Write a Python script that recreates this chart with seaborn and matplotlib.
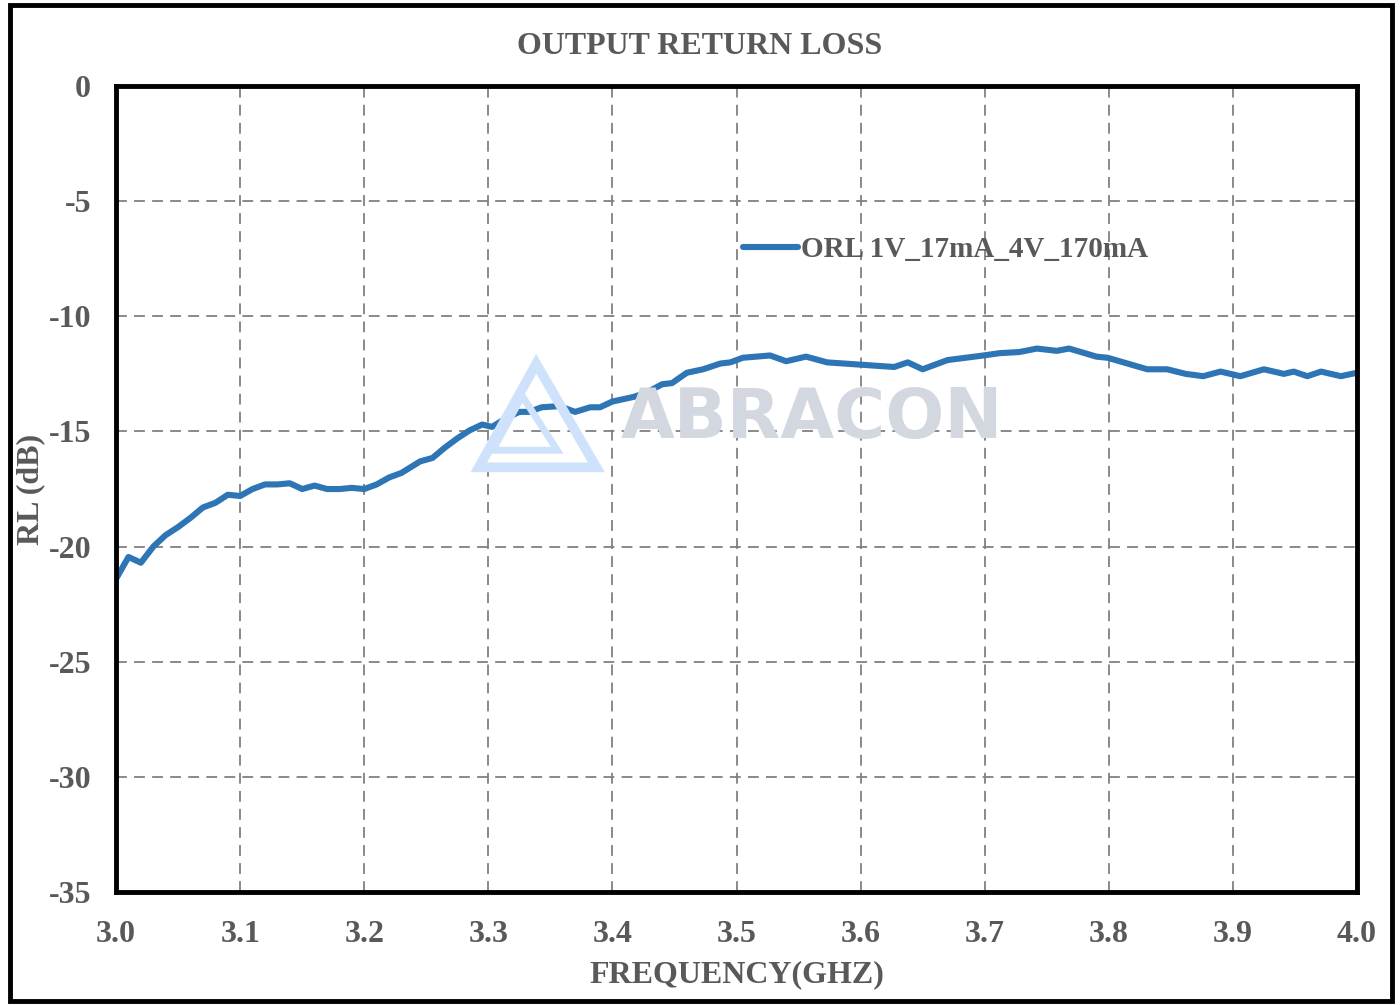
import numpy as np
import pandas as pd
import matplotlib.pyplot as plt
import matplotlib.patches as patches
import seaborn as sns

# values
freq = [3.000, 3.010, 3.020, 3.030, 3.040, 3.050, 3.060, 3.070, 3.080, 3.090,
        3.100, 3.110, 3.120, 3.130, 3.140, 3.150, 3.160, 3.170, 3.180, 3.190,
        3.200, 3.210, 3.220, 3.230, 3.245, 3.255, 3.265, 3.275, 3.285, 3.295,
        3.303, 3.315, 3.325, 3.333, 3.343, 3.357, 3.370, 3.382, 3.390, 3.400,
        3.417, 3.428, 3.440, 3.448, 3.460, 3.473, 3.487, 3.495, 3.505, 3.527,
        3.540, 3.556, 3.573, 3.600, 3.627, 3.638, 3.650, 3.670, 3.699, 3.712,
        3.728, 3.742, 3.758, 3.768, 3.790, 3.799, 3.815, 3.831, 3.847, 3.862,
        3.876, 3.890, 3.906, 3.925, 3.941, 3.949, 3.960, 3.971, 3.987, 4.000]
rl = [-21.4, -20.45, -20.7, -20.0, -19.5, -19.15, -18.75, -18.3, -18.1, -17.75,
      -17.8, -17.5, -17.3, -17.3, -17.25, -17.5, -17.35, -17.5, -17.5, -17.45,
      -17.5, -17.3, -17.0, -16.8, -16.3, -16.15, -15.7, -15.3, -14.95, -14.7,
      -14.8, -14.4, -14.15, -14.15, -13.95, -13.9, -14.15, -13.95, -13.95, -13.7,
      -13.5, -13.3, -12.95, -12.9, -12.45, -12.3, -12.05, -12.0, -11.8, -11.7,
      -11.95, -11.75, -12.0, -12.1, -12.2, -12.0, -12.3, -11.9, -11.7, -11.6,
      -11.55, -11.4, -11.5, -11.4, -11.75, -11.8, -12.05, -12.3, -12.3, -12.5,
      -12.6, -12.4, -12.6, -12.3, -12.5, -12.4, -12.6, -12.4, -12.6, -12.45]
series_name = "ORL 1V_17mA_4V_170mA"
x_ticks = [3.0, 3.1, 3.2, 3.3, 3.4, 3.5, 3.6, 3.7, 3.8, 3.9, 4.0]
y_ticks = [0, -5, -10, -15, -20, -25, -30, -35]

df = pd.DataFrame({"Frequency": freq, "RL": rl, "Series": series_name})

sns.set_theme(style="white")
plt.rcParams["font.family"] = ["Liberation Serif", "DejaVu Serif"]
plt.rcParams["font.weight"] = "bold"
txt = "#595959"

fig = plt.figure(figsize=(14, 10.05), dpi=100)
ax = fig.add_axes([0.0829, 0.1124, 0.8864, 0.802])

# watermark (behind data)
fig.text(0.580, 0.584, "ABRACON", fontsize=50, color="#d3d7e0", weight="bold",
         family=["DejaVu Sans"], ha="center", va="center", zorder=0)
logo_outer = patches.Polygon([[0.383, 0.638], [0.342, 0.535], [0.426, 0.535]],
                             closed=True, fill=False, edgecolor="#cfe2fb", lw=7,
                             transform=fig.transFigure, zorder=0)
logo_inner = patches.Polygon([[0.373, 0.606], [0.352, 0.552], [0.398, 0.552]],
                             closed=True, fill=False, edgecolor="#cfe2fb", lw=5,
                             transform=fig.transFigure, zorder=0)
fig.patches.extend([logo_outer, logo_inner])
ax.set_facecolor("none")

sns.lineplot(data=df, x="Frequency", y="RL", hue="Series", ax=ax,
             palette=["#2e75b6"], linewidth=4.4, zorder=3,
             solid_joinstyle="round", solid_capstyle="round")

ax.set_xlim(3.0, 4.0)
ax.set_ylim(-35, 0)
ax.set_xticks(x_ticks)
ax.set_xticklabels([f"{v:.1f}" for v in x_ticks])
ax.set_yticks(y_ticks)
ax.set_yticklabels([str(v) for v in y_ticks])
ax.tick_params(axis="x", length=0, labelsize=23, labelcolor=txt, pad=20)
ax.tick_params(axis="y", length=0, labelsize=23, labelcolor=txt, pad=18)
for lab in ax.get_xticklabels() + ax.get_yticklabels():
    lab.set_fontweight("bold")

ax.grid(True, color="#808080", linestyle=(0, (6, 4)), linewidth=1.3)
for s in ax.spines.values():
    s.set_color("black")
    s.set_linewidth(3.5)
    s.set_zorder(5)

ax.set_xlabel("FREQUENCY(GHZ)", fontsize=23, color=txt, weight="bold", labelpad=8)
ax.set_ylabel("RL (dB)", fontsize=23, color=txt, weight="bold", labelpad=2)
fig.text(0.5, 1 - 47 / 1005, "OUTPUT RETURN LOSS", fontsize=23, color=txt,
         weight="bold", ha="center", va="center")

leg = ax.legend(loc="center left", bbox_to_anchor=(0.484, 0.797), frameon=False,
                fontsize=21, handlelength=1.9, handletextpad=0.1)
for t in leg.get_texts():
    t.set_color(txt)
    t.set_fontweight("bold")
for h in leg.get_lines():
    h.set_linewidth(4.4)

# outer border around the whole chart
border = patches.Rectangle((0.007, 0.004), 0.987, 0.991, fill=False,
                           edgecolor="black", lw=3.5, transform=fig.transFigure)
fig.patches.append(border)

fig.savefig("out.png", dpi=100)
